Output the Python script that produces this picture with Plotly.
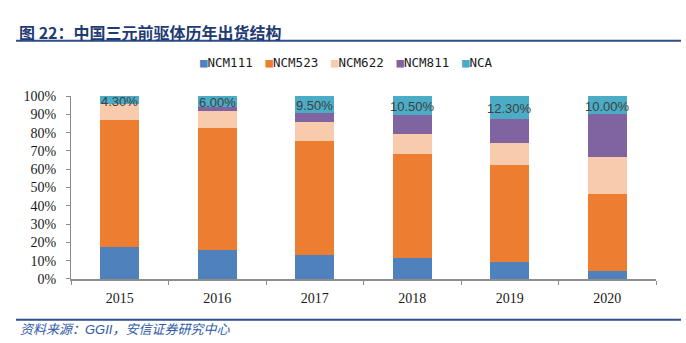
import plotly.graph_objects as go

# 中国三元前驱体历年出货结构（%）
years = ["2015", "2016", "2017", "2018", "2019", "2020"]
ncm111 = [17.3, 15.7, 12.9, 11.7, 9.2, 4.6]
ncm523 = [69.5, 66.8, 62.6, 56.4, 53.2, 41.7]
ncm622 = [8.9, 9.5, 10.2, 11.1, 11.7, 20.3]
ncm811 = [0.0, 2.0, 4.8, 10.3, 13.6, 23.4]
nca = [4.3, 6.0, 9.5, 10.5, 12.3, 10.0]

series = [
    ("NCM111", ncm111, "#4F81BD"),
    ("NCM523", ncm523, "#ED7D31"),
    ("NCM622", ncm622, "#F8CBAD"),
    ("NCM811", ncm811, "#8064A2"),
    ("NCA", nca, "#4BACC6"),
]

fig = go.Figure()
for name, vals, color in series:
    fig.add_trace(go.Bar(
        name=name, x=years, y=vals,
        marker=dict(color=color, line=dict(width=0)),
        hoverinfo="skip", showlegend=False,
    ))

# 图例：小方块色标写在图例文字前
legend_names = [f"<span style='color:{c}'>■</span>{n}" for n, _, c in series] + ["\u00a0"]
for lname in legend_names:
    fig.add_trace(go.Scatter(
        x=[None], y=[None], mode="markers",
        marker=dict(size=1, color="rgba(0,0,0,0)", line=dict(width=0)),
        name=lname, hoverinfo="skip", showlegend=True,
    ))

# NCA 占比标注：位于 NCA 段中部（类别轴用序号定位）
below_nca = [a + b + c + d for a, b, c, d in zip(ncm111, ncm523, ncm622, ncm811)]
for i, (base, v) in enumerate(zip(below_nca, nca)):
    fig.add_annotation(
        x=i, y=base + v / 2, text=f"{v:.2f}%",
        showarrow=False, xanchor="center", yanchor="middle", yshift=-1,
        font=dict(family="Liberation Sans, Arial", size=13, color="#404040"),
    )

W, H = 686, 343
pl, pr, pt, pb = 71, 30, 91, 63.5

fig.update_layout(
    barmode="stack",
    bargap=0.605,
    width=W, height=H,
    margin=dict(l=pl, r=pr, t=pt, b=pb),
    paper_bgcolor="white",
    plot_bgcolor="white",
    showlegend=True,
    legend=dict(
        orientation="h",
        xref="container", yref="container",
        x=160 / W, xanchor="left",
        y=1 - 62 / H, yanchor="middle",
        font=dict(family="DejaVu Sans Mono", size=12.5, color="#1a1a1a"),
        itemwidth=30,
        entrywidth=20.5, entrywidthmode="pixels",
        traceorder="normal",
        bgcolor="rgba(0,0,0,0)",
    ),
    xaxis=dict(
        type="category",
        showline=True, linecolor="#8c8c8c", linewidth=1.5,
        ticks="outside", tickson="boundaries", ticklen=4, tickcolor="#8c8c8c",
        tickfont=dict(family="Liberation Serif, Times New Roman", size=14, color="#1a1a1a"),
        ticklabelstandoff=5,
        showgrid=False, zeroline=False,
    ),
    yaxis=dict(
        range=[0, 100], dtick=10, ticksuffix="%",
        showline=True, linecolor="#8c8c8c", linewidth=1,
        ticks="outside", ticklen=4, tickcolor="#8c8c8c",
        tickfont=dict(family="Liberation Serif, Times New Roman", size=14, color="#1a1a1a"),
        ticklabelstandoff=7,
        showgrid=False, zeroline=False,
    ),
)

# 页眉标题、页脚资料来源（按容器像素定位）
pw, ph = W - pl - pr, H - pt - pb
def px_x(x):
    return (x - pl) / pw
def px_y(y):
    return (H - pb - y) / ph

fig.add_annotation(
    text="<b>图 22：中国三元前驱体历年出货结构</b>",
    xref="paper", yref="paper", x=px_x(17), y=px_y(25), showarrow=False,
    xanchor="left", yanchor="middle",
    font=dict(family="Noto Sans CJK SC, Liberation Sans", size=16, color="#1F3B73"),
)
fig.add_annotation(
    text="<i>资料来源：GGII，安信证券研究中心</i>",
    xref="paper", yref="paper", x=px_x(18), y=px_y(331.5), showarrow=False,
    xanchor="left", yanchor="middle",
    font=dict(family="Liberation Sans, Noto Sans CJK SC", size=13, color="#2F5AA8"),
)
fig.add_shape(type="line", xref="paper", yref="paper",
              x0=px_x(16), x1=px_x(681), y0=px_y(34), y1=px_y(34),
              line=dict(color="#2E4E8C", width=2))
fig.add_shape(type="line", xref="paper", yref="paper",
              x0=px_x(16), x1=px_x(681), y0=px_y(321.5), y1=px_y(321.5),
              line=dict(color="#2E4E8C", width=2))

fig.write_html("out.html")
